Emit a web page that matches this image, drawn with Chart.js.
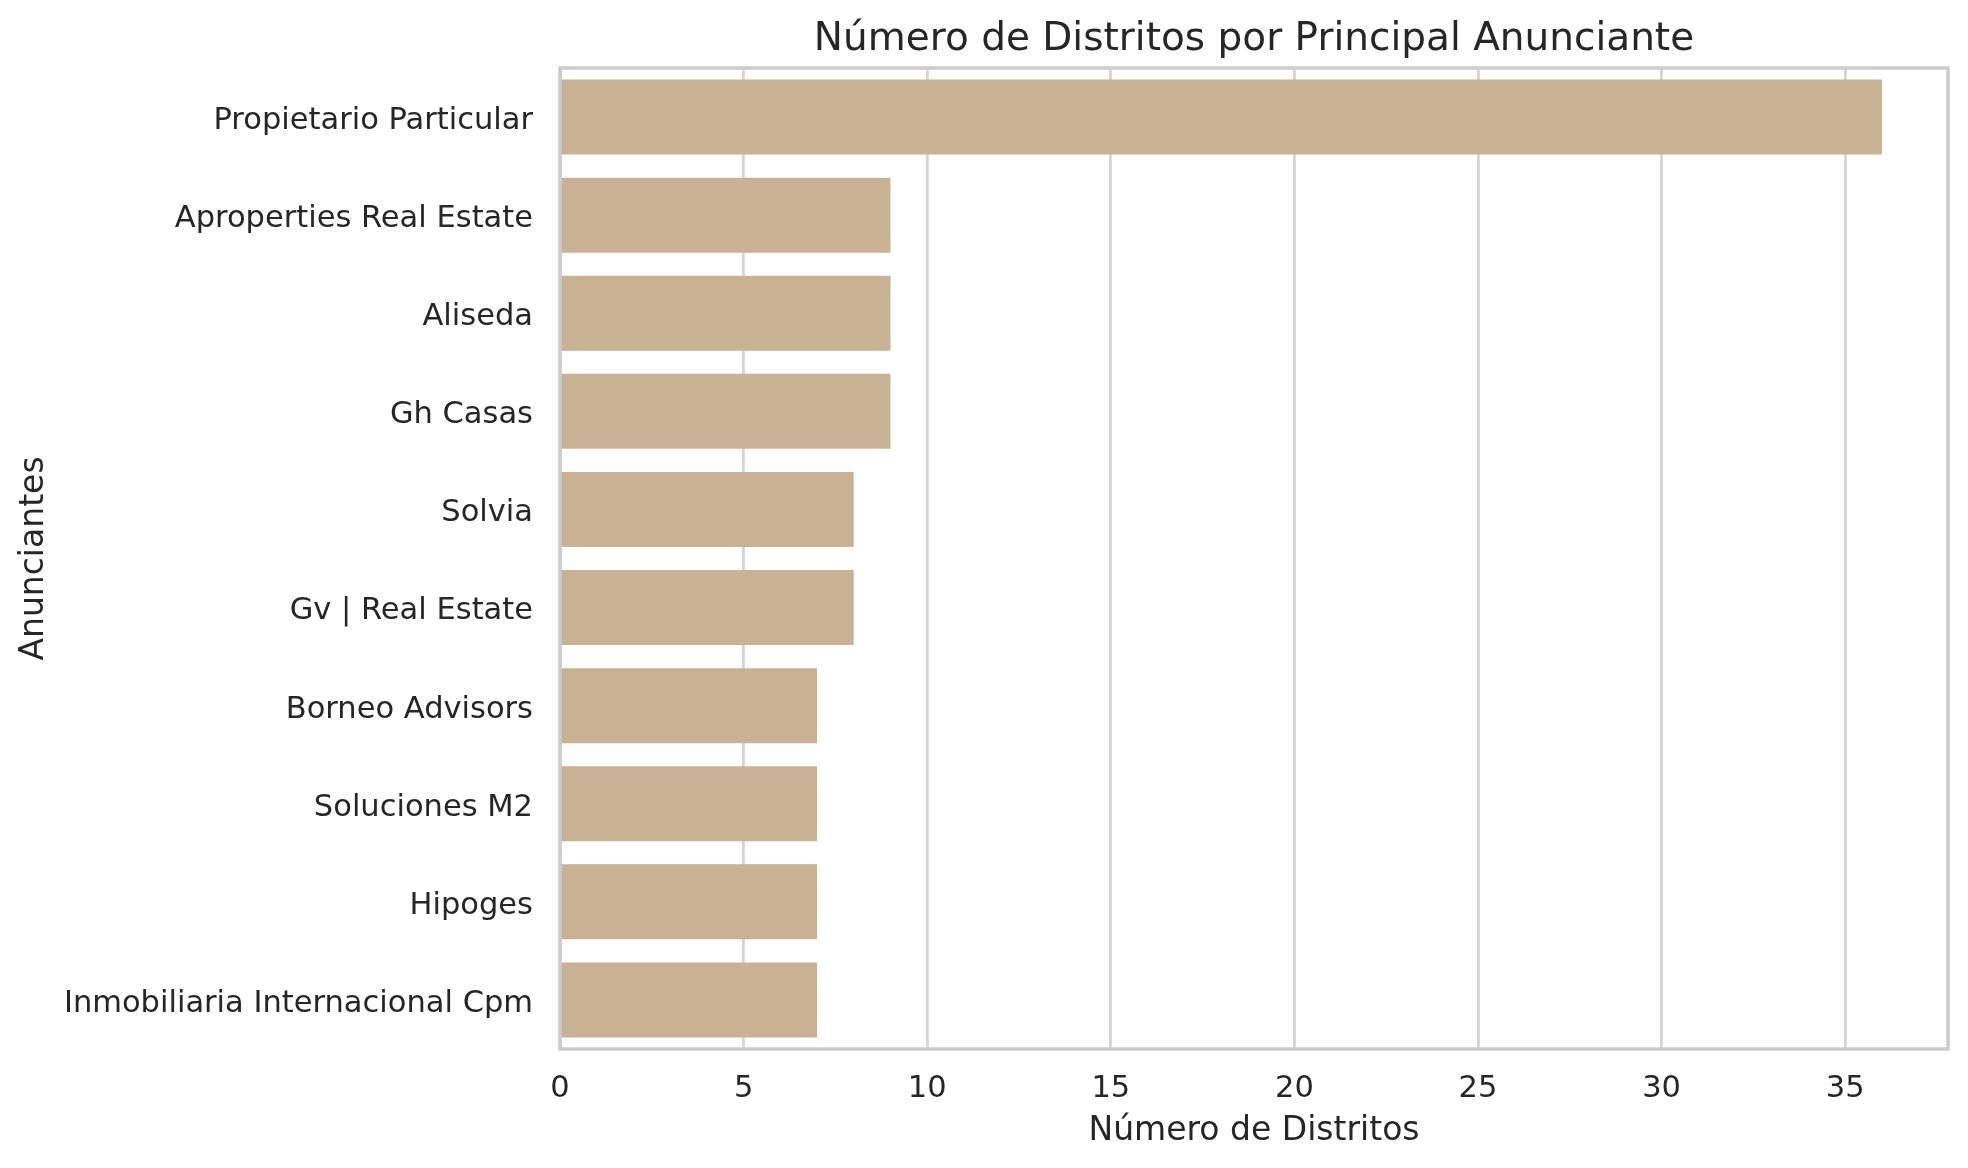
<!DOCTYPE html>
<html>
<head>
<meta charset="utf-8">
<script src="https://cdn.jsdelivr.net/npm/chart.js@4"></script>
<style>
  html, body { margin: 0; padding: 0; background: #ffffff; }
  canvas { display: block; }
</style>
</head>
<body>
<canvas id="anunciantesChart" width="1968" height="1168"></canvas>
<script>
const anunciantes = [
  'Propietario Particular',
  'Aproperties Real Estate',
  'Aliseda',
  'Gh Casas',
  'Solvia',
  'Gv | Real Estate',
  'Borneo Advisors',
  'Soluciones M2',
  'Hipoges',
  'Inmobiliaria Internacional Cpm'
];
const numDistritos = [36, 9, 9, 9, 8, 8, 7, 7, 7, 7];
const xMax = 37.8;
const chartTitle = 'Número de Distritos por Principal Anunciante';

const textColor = '#262626';
const fontFamily = "'DejaVu Sans', sans-serif";

// spines round the plot area and a title centred over the axes, like matplotlib
const frame = {
  id: 'frame',
  afterDatasetsDraw(chart) {
    const {ctx, chartArea} = chart;
    ctx.save();
    ctx.strokeStyle = '#cccccc';
    ctx.lineWidth = 3.5;
    ctx.strokeRect(chartArea.left, chartArea.top, chartArea.right - chartArea.left, chartArea.bottom - chartArea.top);
    ctx.fillStyle = textColor;
    ctx.font = '39px ' + fontFamily;
    ctx.textAlign = 'center';
    ctx.textBaseline = 'middle';
    ctx.fillText(chartTitle, (chartArea.left + chartArea.right) / 2, 40);
    ctx.restore();
  }
};

const data = {
  labels: anunciantes,
  datasets: [{
    label: 'Número de Distritos',
    data: numDistritos,
    backgroundColor: '#c9b293',
    borderWidth: 0,
    categoryPercentage: 0.8,
    barPercentage: 0.956
  }]
};

var settings = {
  type: 'bar',
  data: data,
  plugins: [frame],
  options: {
    indexAxis: 'y',
    responsive: false,
    devicePixelRatio: 1,
    animation: false,
    layout: { padding: { left: 0, right: 20, top: 68, bottom: 0 } },
    plugins: {
      legend: { display: false },
      tooltip: { enabled: false },
      title: { display: false }
    },
    scales: {
      x: {
        type: 'linear',
        min: 0,
        max: xMax,
        border: { display: false },
        grid: { color: '#d5d5d5', lineWidth: 2.8, drawTicks: false },
        ticks: {
          stepSize: 5,
          includeBounds: false,
          padding: 22,
          color: textColor,
          font: { family: fontFamily, size: 30.5 }
        },
        title: {
          display: true,
          text: 'Número de Distritos',
          color: textColor,
          font: { family: fontFamily, size: 33 },
          padding: { top: 0, bottom: 17 }
        },
        afterFit: function(scale) { scale.height = 119; }
      },
      y: {
        border: { display: false },
        grid: { display: false, drawTicks: false },
        ticks: {
          padding: 27,
          labelOffset: 4,
          color: textColor,
          font: { family: fontFamily, size: 30.5 }
        },
        title: {
          display: true,
          text: 'Anunciantes',
          color: textColor,
          font: { family: fontFamily, size: 33 },
          padding: { top: 15, bottom: 0 }
        },
        afterFit: function(scale) { scale.width = 560; }
      }
    }
  }
};

var ctx = document.getElementById('anunciantesChart').getContext('2d');
var anunciantesChart = new Chart(ctx, settings);
</script>
</body>
</html>
